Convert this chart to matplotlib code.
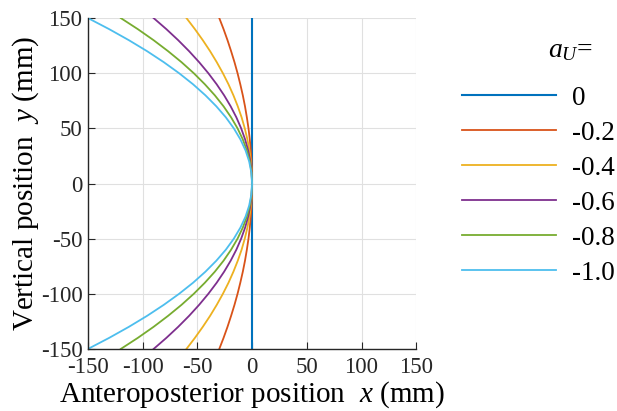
import matplotlib
matplotlib.use("Agg")
import matplotlib.pyplot as plt

plt.rcParams['font.family'] = ['Liberation Serif', 'DejaVu Serif']
plt.rcParams['mathtext.fontset'] = 'custom'
plt.rcParams['mathtext.rm'] = 'Liberation Serif'
plt.rcParams['mathtext.it'] = 'Liberation Serif:italic'
plt.rcParams['axes.unicode_minus'] = False

# vertical position (mm), every 10 mm
y = [-150, -140, -130, -120, -110, -100, -90, -80, -70, -60, -50, -40, -30, -20, -10, 0,
     10, 20, 30, 40, 50, 60, 70, 80, 90, 100, 110, 120, 130, 140, 150]

# anteroposterior position (mm) for each a_U
x_a0 = [0] * 31
x_a02 = [-30, -26.1, -22.5, -19.2, -16.1, -13.3, -10.8, -8.5, -6.5, -4.8, -3.3, -2.1, -1.2, -0.5, -0.1, 0,
         -0.1, -0.5, -1.2, -2.1, -3.3, -4.8, -6.5, -8.5, -10.8, -13.3, -16.1, -19.2, -22.5, -26.1, -30]
x_a04 = [-60, -52.3, -45.1, -38.4, -32.3, -26.7, -21.6, -17.1, -13.1, -9.6, -6.7, -4.3, -2.4, -1.1, -0.3, 0,
         -0.3, -1.1, -2.4, -4.3, -6.7, -9.6, -13.1, -17.1, -21.6, -26.7, -32.3, -38.4, -45.1, -52.3, -60]
x_a06 = [-90, -78.4, -67.6, -57.6, -48.4, -40, -32.4, -25.6, -19.6, -14.4, -10, -6.4, -3.6, -1.6, -0.4, 0,
         -0.4, -1.6, -3.6, -6.4, -10, -14.4, -19.6, -25.6, -32.4, -40, -48.4, -57.6, -67.6, -78.4, -90]
x_a08 = [-120, -104.5, -90.1, -76.8, -64.5, -53.3, -43.2, -34.1, -26.1, -19.2, -13.3, -8.5, -4.8, -2.1, -0.5, 0,
         -0.5, -2.1, -4.8, -8.5, -13.3, -19.2, -26.1, -34.1, -43.2, -53.3, -64.5, -76.8, -90.1, -104.5, -120]
x_a10 = [-150, -130.7, -112.7, -96, -80.7, -66.7, -54, -42.7, -32.7, -24, -16.7, -10.7, -6, -2.7, -0.7, 0,
         -0.7, -2.7, -6, -10.7, -16.7, -24, -32.7, -42.7, -54, -66.7, -80.7, -96, -112.7, -130.7, -150]

labels = ['0', '-0.2', '-0.4', '-0.6', '-0.8', '-1.0']
colors = ['#0072BD', '#D95319', '#EDB120', '#7E2F8E', '#77AC30', '#4DBEEE']
ticks = [-150, -100, -50, 0, 50, 100, 150]

fig = plt.figure(figsize=(6.17, 4.11), dpi=100)
ax = fig.add_axes([0.1426, 0.151, 0.532, 0.805])

series = [x_a0, x_a02, x_a04, x_a06, x_a08, x_a10]
for xs, lab, c in zip(series, labels, colors):
    ax.plot(xs, y, color=c, lw=1.5 if lab == '0' else 1.3, label=lab)

ax.set_xlim(-150, 150)
ax.set_ylim(-150, 150)
ax.set_xticks(ticks)
ax.set_yticks(ticks)
ax.grid(True, color='#e0e0e0', lw=0.8)
ax.set_axisbelow(True)
for s in ['top', 'right']:
    ax.spines[s].set_visible(False)
for s in ['left', 'bottom']:
    ax.spines[s].set_color('#262626')
    ax.spines[s].set_linewidth(1.0)
ax.tick_params(direction='in', length=5, labelsize=16.5, colors='#262626')
ax.tick_params(axis='x', pad=6)
ax.tick_params(axis='y', pad=4)

ax.set_xlabel('Anteroposterior position  $x$ (mm)', fontsize=21, labelpad=1)
ax.set_ylabel('Vertical position  $y$ (mm)', fontsize=21, labelpad=0)

fig.legend(loc='upper left', bbox_to_anchor=(0.731, 0.8175), bbox_transform=fig.transFigure,
           frameon=False, borderaxespad=0, fontsize=19.5, handlelength=3.47,
           handletextpad=0.59, labelspacing=0.37)
fig.text(0.888, 0.878, '$a_U$=', fontsize=20, ha='left', va='center')

fig.savefig('out.png', dpi=100)
